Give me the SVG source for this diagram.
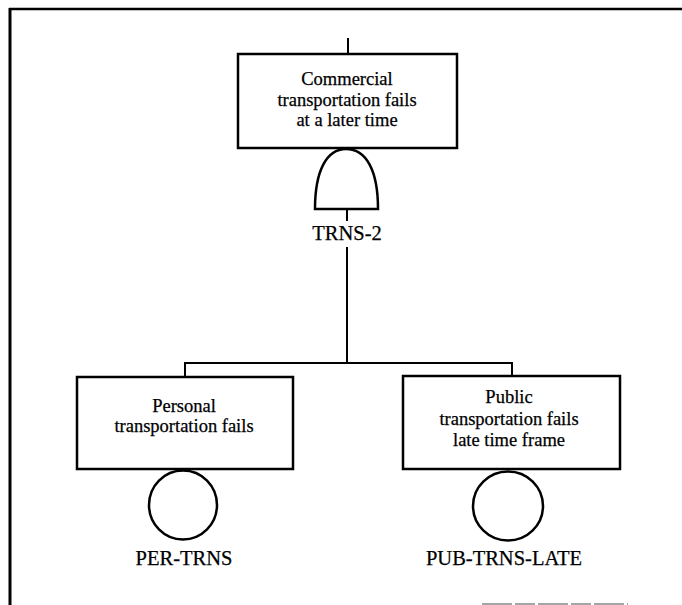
<svg xmlns="http://www.w3.org/2000/svg" width="682" height="605" viewBox="0 0 682 605">
<style>
.box{fill:#fff;stroke:#000;stroke-width:2.5}
.ln{fill:none;stroke:#000;stroke-width:2}
.gate{fill:#fff;stroke:#000;stroke-width:2.5}
.ev{fill:#fff;stroke:#000;stroke-width:2.5}
.t{font-family:"Liberation Serif","Times New Roman",serif;font-size:18.5px;text-anchor:middle;fill:#000;stroke:#000;stroke-width:0.25}
.lb{font-family:"Liberation Serif","Times New Roman",serif;font-size:20.5px;text-anchor:middle;fill:#000;stroke:#000;stroke-width:0.25}
</style>
<rect width="682" height="605" fill="#fff"/>
<g id="frame">
<line x1="10" y1="8" x2="10" y2="605" stroke="#000" stroke-width="3"/>
<line x1="9" y1="9" x2="682" y2="9" stroke="#000" stroke-width="2.5"/>
<line x1="482" y1="604" x2="628" y2="604" stroke="#888" stroke-width="1.5" stroke-dasharray="30,3,20,3"/>
</g>
<g id="connectors">
<line class="ln" x1="348" y1="38" x2="348" y2="54"/>
<line class="ln" x1="347" y1="209" x2="347" y2="221"/>
<line class="ln" x1="347" y1="247" x2="347" y2="363"/>
<polyline class="ln" points="185,377 185,363 512,363 512,376"/>
</g>
<g id="top-event">
<rect class="box" x="238" y="54" width="219" height="94"/>
<text class="t" x="347" y="85">Commercial</text>
<text class="t" x="347" y="106">transportation fails</text>
<text class="t" x="347" y="126">at a later time</text>
</g>
<g id="gate-TRNS-2">
<path class="gate" d="M315,209 L378,209 C378,170 366,149 346,149 C327,149 315,170 315,209 Z"/>
<text class="lb" x="347" y="240">TRNS-2</text>
</g>
<g id="PER-TRNS">
<rect class="box" x="77" y="377" width="216" height="92"/>
<text class="t" x="184" y="412">Personal</text>
<text class="t" x="184" y="432">transportation fails</text>
<ellipse class="ev" cx="183" cy="505" rx="34" ry="34.5"/>
<text class="lb" x="184" y="565">PER-TRNS</text>
</g>
<g id="PUB-TRNS-LATE">
<rect class="box" x="403" y="376" width="217" height="93"/>
<text class="t" x="509" y="403">Public</text>
<text class="t" x="509" y="425">transportation fails</text>
<text class="t" x="509" y="446">late time frame</text>
<ellipse class="ev" cx="508" cy="506" rx="35" ry="34.5"/>
<text class="lb" x="504" y="565">PUB-TRNS-LATE</text>
</g>
</svg>
